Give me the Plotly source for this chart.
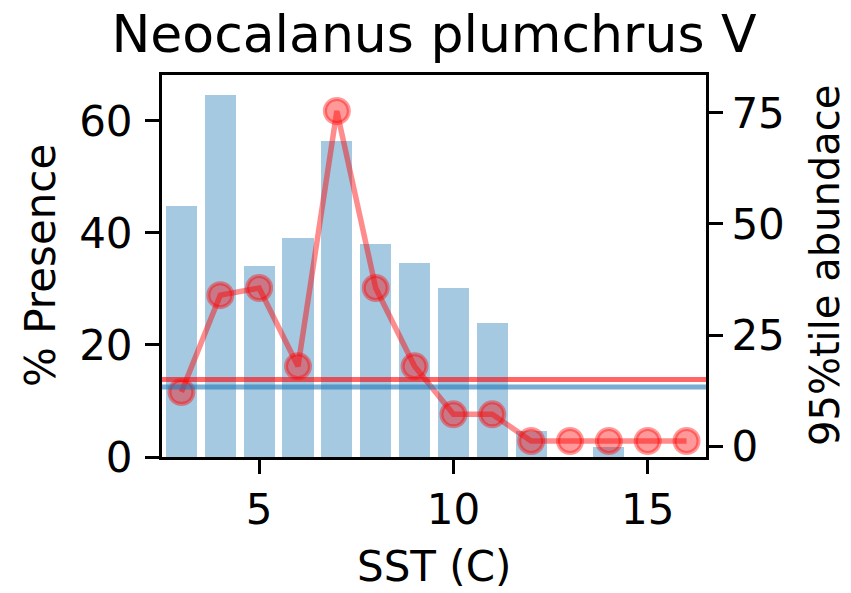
import plotly.graph_objects as go

# ---- data ----
sst = [3, 4, 5, 6, 7, 8, 9, 10, 11, 12, 13, 14, 15, 16]
presence = [44.9, 64.7, 34.1, 39.1, 56.4, 38.0, 34.6, 30.1, 24.0, 4.6, 0, 1.8, 0, 0]
abundance95 = [12.2, 34.0, 35.6, 18.0, 75.4, 35.6, 18.0, 7.2, 7.2, 1.2, 1.2, 1.2, 1.2, 1.2]
mean_presence = 12.5
mean_abundance = 15.0

title_text = "Neocalanus plumchrus V"
xlabel = "SST (C)"
ylabel_left = "% Presence"
ylabel_right = "95%tile abundace"

FONT = "DejaVu Sans"
W, H = 851, 593
L, R, T, B = 162, 145, 75, 136

fig = go.Figure()
fig.add_trace(go.Bar(
    x=sst, y=presence, width=0.8,
    marker=dict(color="rgba(31,119,180,0.4)", line=dict(width=0)),
    yaxis="y", showlegend=False,
))
fig.add_trace(go.Scatter(
    x=sst, y=abundance95, mode="lines+markers", yaxis="y2",
    line=dict(color="rgba(255,0,0,0.45)", width=5.5),
    marker=dict(size=24, color="rgba(255,0,0,0.4)",
                line=dict(color="rgba(255,0,0,0.4)", width=4)),
    showlegend=False,
))

fig.add_shape(type="line", xref="paper", x0=0, x1=1, yref="y", y0=mean_presence, y1=mean_presence,
              line=dict(color="rgba(31,119,180,0.6)", width=5), layer="above")
fig.add_shape(type="line", xref="paper", x0=0, x1=1, yref="y2", y0=mean_abundance, y1=mean_abundance,
              line=dict(color="rgba(255,0,0,0.6)", width=5), layer="above")

axis_common = dict(showgrid=False, zeroline=False, showline=True, linecolor="black", linewidth=3,
                   ticks="outside", ticklen=14, tickwidth=3, tickcolor="black",
                   tickfont=dict(family=FONT, size=42, color="black"))

fig.update_layout(
    width=W, height=H,
    margin=dict(l=L, r=R, t=T, b=B, pad=0),
    paper_bgcolor="white", plot_bgcolor="white",
    bargap=0,
    title=dict(text=title_text, font=dict(family=FONT, size=52, color="black"),
               x=(L + (W - R)) / 2 / W, xanchor="center", xref="container",
               y=1 - 34 / H, yanchor="middle", yref="container"),
    xaxis=dict(range=[2.5, 16.5], tickvals=[5, 10, 15], mirror=True, **axis_common),
    yaxis=dict(range=[0, 68.2], tickvals=[0, 20, 40, 60], ticklabelstandoff=4, **axis_common),
    yaxis2=dict(range=[-2.4, 83.5], tickvals=[0, 25, 50, 75], overlaying="y", side="right", **axis_common),
    annotations=[
        dict(text=xlabel, xref="paper", yref="paper", x=0.5, y=-(566 - (H - B)) / (H - T - B),
             xanchor="center", yanchor="middle", showarrow=False,
             font=dict(family=FONT, size=42, color="black")),
        dict(text=ylabel_left, xref="paper", yref="paper", x=-(L - 40) / (W - L - R), y=0.5,
             xanchor="center", yanchor="middle", textangle=-90, showarrow=False,
             font=dict(family=FONT, size=42, color="black")),
        dict(text=ylabel_right, xref="paper", yref="paper", x=1 + (825 - (W - R)) / (W - L - R), y=0.5,
             xanchor="center", yanchor="middle", textangle=-90, showarrow=False,
             font=dict(family=FONT, size=40, color="black")),
    ],
)

fig.write_html("out.html")
